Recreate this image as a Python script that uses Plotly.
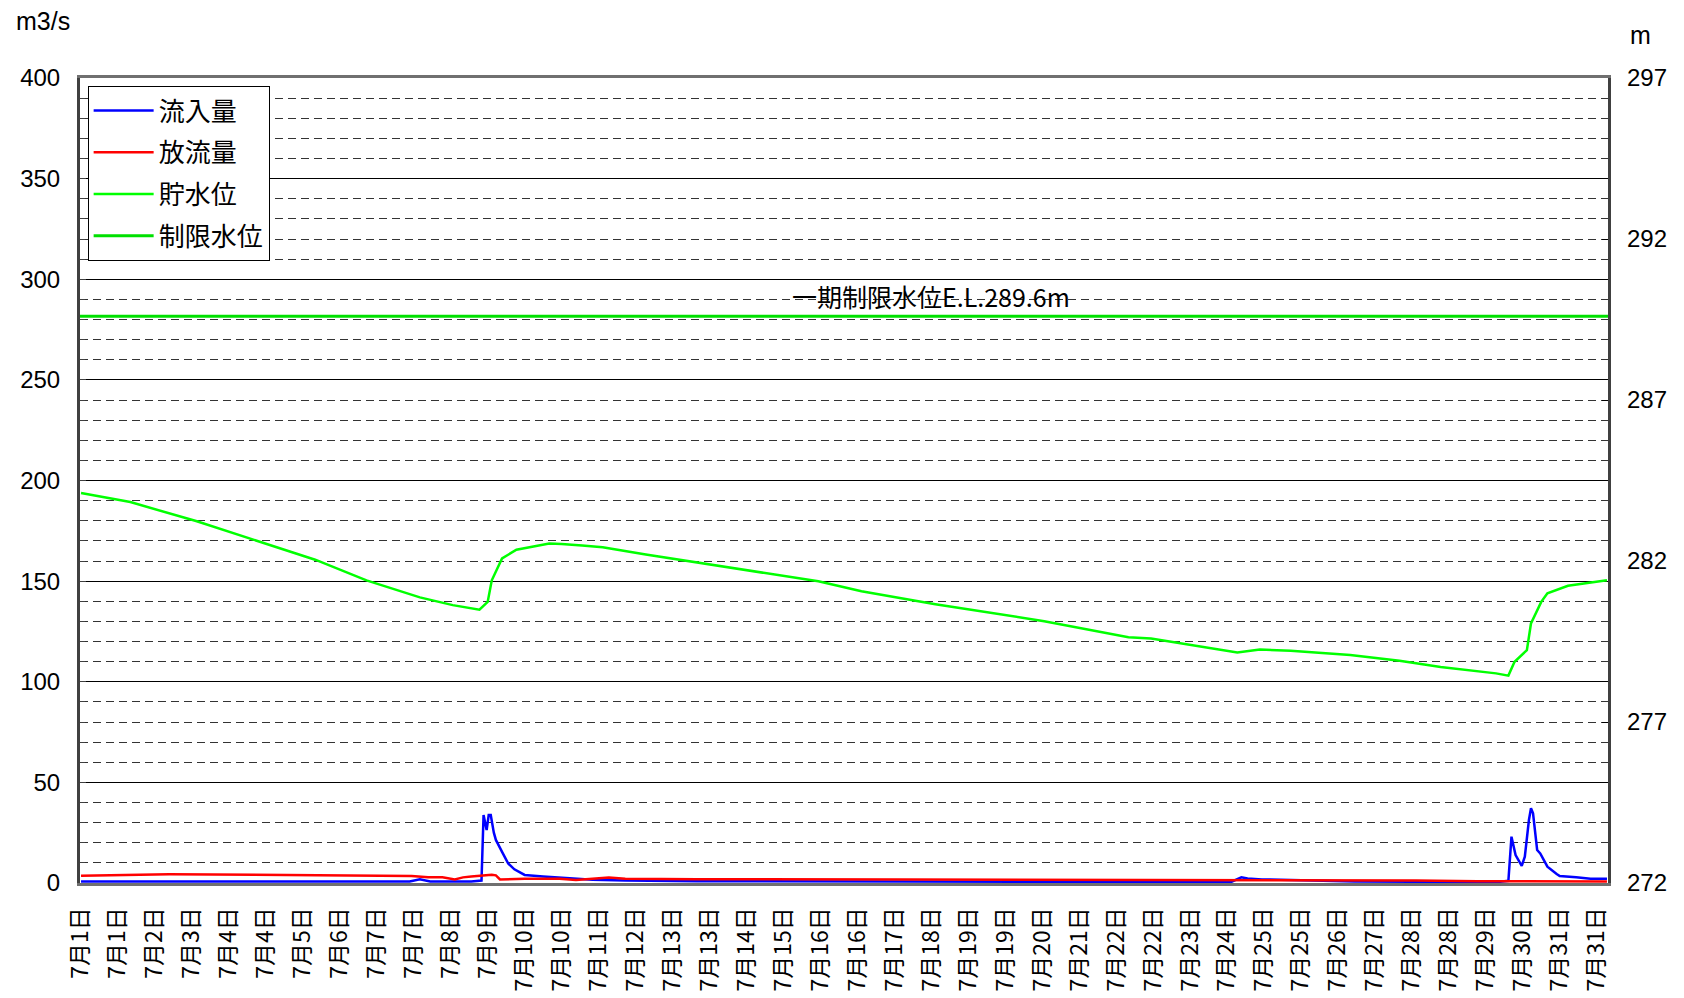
import plotly.graph_objects as go

# ---------------- data (hour index from 7/1 00:00, hourly) ----------------
tick_labels = ["7月1日", "7月1日", "7月2日", "7月3日", "7月4日", "7月4日", "7月5日", "7月6日",
               "7月7日", "7月7日", "7月8日", "7月9日", "7月10日", "7月10日", "7月11日", "7月12日",
               "7月13日", "7月13日", "7月14日", "7月15日", "7月16日", "7月16日", "7月17日", "7月18日",
               "7月19日", "7月19日", "7月20日", "7月21日", "7月22日", "7月22日", "7月23日", "7月24日",
               "7月25日", "7月25日", "7月26日", "7月27日", "7月28日", "7月28日", "7月29日", "7月30日",
               "7月31日", "7月31日"]
tick_step_hours = 18

inflow_hours = [0, 24, 48, 96, 150, 160, 165, 170, 190, 195, 196, 197.5, 198.5, 199.5, 201, 202,
                205, 208, 211, 216, 225, 233, 241, 249, 265, 300, 400, 500, 560, 565, 568, 575,
                590, 620, 690, 695, 696.5, 698.5, 701.5, 703, 705, 706, 707, 709, 710.5, 714,
                718.5, 720, 728, 735, 743]
inflow_values = [0.8, 0.8, 0.7, 0.7, 0.6, 0.7, 1.8, 0.8, 0.8, 1.2, 33.8, 26.3, 33.8, 33.8, 25.0, 21.4,
                 15.5, 9.7, 6.8, 4.0, 3.2, 2.7, 2.1, 1.6, 1.2, 0.9, 0.7, 0.6, 0.5, 2.8, 2.2, 1.8,
                 1.4, 0.7, 0.5, 1.1, 23.0, 13.9, 8.5, 13.1, 31.3, 37.1, 34.6, 16.4, 14.7, 8.1,
                 4.5, 3.5, 2.8, 2.1, 2.1]

outflow_hours = [0, 43, 100, 161, 169, 176, 182, 186, 190, 195, 200, 202, 204, 216, 233, 241, 257,
                 265, 300, 400, 500, 560, 600, 650, 680, 700, 743]
outflow_values = [3.6, 4.3, 4.0, 3.5, 2.8, 2.8, 1.8, 2.8, 3.2, 3.6, 4.1, 3.8, 1.8, 2.1, 2.1, 1.5, 2.7,
                  2.1, 1.9, 1.8, 1.7, 1.5, 1.3, 1.2, 0.9, 0.8, 0.8]

level_hours = [0, 24, 56, 85, 114, 139, 165, 181, 194, 198, 200, 205, 212, 228, 234, 244, 254, 275,
               328, 359, 380, 416, 469, 510, 521, 563, 574, 589, 618, 642, 662, 689, 695, 698, 704,
               706, 711, 714, 724, 743]
level_values = [284.11, 283.83, 283.24, 282.64, 282.04, 281.40, 280.87, 280.63, 280.49, 280.73,
                281.40, 282.08, 282.35, 282.54, 282.53, 282.48, 282.43, 282.20, 281.67, 281.37,
                281.06, 280.66, 280.13, 279.63, 279.59, 279.16, 279.25, 279.21, 279.08, 278.90,
                278.71, 278.51, 278.44, 278.87, 279.23, 280.06, 280.73, 281.00, 281.23, 281.40]

limit_level = 289.6
limit_label = "一期制限水位E.L.289.6m"

x_range = [-0.5, 743.5]
left_range = [0, 400]
right_range = [272, 297]

FONT = "Liberation Sans, Arial, Noto Sans CJK JP, sans-serif"

fig = go.Figure()
fig.add_trace(go.Scatter(x=inflow_hours, y=inflow_values, mode="lines", name="流入量",
                         line=dict(color="#0000FF", width=2.5), legendgroup="a"))
fig.add_trace(go.Scatter(x=outflow_hours, y=outflow_values, mode="lines", name="放流量",
                         line=dict(color="#FF0000", width=2.5), legendgroup="b"))
fig.add_trace(go.Scatter(x=level_hours, y=level_values, mode="lines", name="貯水位", yaxis="y2",
                         line=dict(color="#00FF00", width=2.5), legendgroup="c"))
fig.add_trace(go.Scatter(x=x_range, y=[limit_level, limit_level], mode="lines", name="制限水位",
                         yaxis="y2", line=dict(color="#00E000", width=3), legendgroup="d"))

tickvals = [i * tick_step_hours for i in range(len(tick_labels))]

fig.update_layout(
    width=1676, height=990,
    margin=dict(l=72, r=76, t=70, b=115, autoexpand=False),
    paper_bgcolor="white", plot_bgcolor="white",
    font=dict(family=FONT, color="black", size=22),
    showlegend=True,
    legend=dict(x=0.005, y=0.99, xanchor="left", yanchor="top",
                bgcolor="white", bordercolor="black", borderwidth=1,
                font=dict(size=26, family="Noto Sans CJK JP"), tracegroupgap=5,
                itemwidth=60),
    xaxis=dict(range=x_range, tickmode="array", tickvals=tickvals, ticktext=tick_labels,
               tickangle=-90, tickfont=dict(size=23, family="Noto Sans CJK JP"),
               showgrid=False, zeroline=False, showline=True, mirror=True, automargin=False,
               linecolor="#707070", linewidth=3, ticks="", ticklabelstandoff=12),
    yaxis=dict(range=left_range, dtick=50, tickfont=dict(size=24), automargin=False,
               showgrid=True, gridcolor="black", gridwidth=1, zeroline=False,
               showline=True, linecolor="#404040", linewidth=3, mirror=True,
               ticks="inside", ticklen=6, tickcolor="#404040", ticklabelstandoff=12,
               minor=dict(dtick=10, showgrid=True, gridcolor="#333333", gridwidth=1,
                          griddash="8px,5px", ticks="inside", ticklen=5, tickcolor="#404040")),
    yaxis2=dict(range=right_range, tick0=272, dtick=5, overlaying="y", side="right",
                tickfont=dict(size=24), showgrid=False, zeroline=False, automargin=False,
                ticks="inside", ticklen=6, tickcolor="black", showline=False,
                ticklabelstandoff=18),
    annotations=[
        dict(text=limit_label, x=0.557, y=limit_level, xref="paper", yref="y2",
             yanchor="bottom", xanchor="center", showarrow=False, yshift=0,
             font=dict(size=25, family="Noto Sans CJK JP")),
        dict(text="m3/s", x=-0.043, y=1.071, xref="paper", yref="paper",
             xanchor="left", yanchor="middle", showarrow=False, font=dict(size=25)),
        dict(text="m", x=1.0212, y=1.0528, xref="paper", yref="paper",
             xanchor="center", yanchor="middle", showarrow=False, font=dict(size=25)),
    ],
)

fig.write_html("out.html")
